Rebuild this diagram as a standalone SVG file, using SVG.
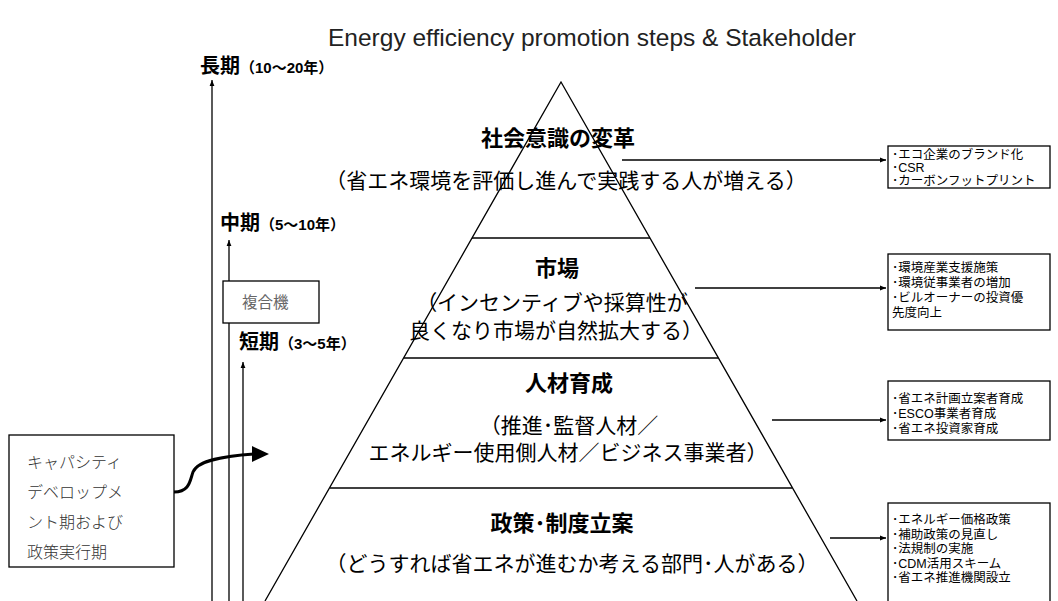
<svg xmlns="http://www.w3.org/2000/svg" width="1058" height="601" viewBox="0 0 1058 601">
<defs>
<style>
.jp{font-family:"Liberation Sans","Noto Sans CJK JP",sans-serif;fill:#000}
.head{font-size:22px;font-weight:bold}
.sub{font-size:21px}
.item{font-size:12.5px}
.period{font-size:20px;font-weight:bold}
.period tspan.s{font-size:15px}
.ln{stroke:#000;stroke-width:1.3;fill:none}
.box{fill:#fff;stroke:#000;stroke-width:1.3}
</style>
<marker id="ah" viewBox="0 0 10 10" refX="10" refY="5" markerWidth="6" markerHeight="6" orient="auto" markerUnits="userSpaceOnUse">
<path d="M0,1 L10,5 L0,9 z" fill="#000"/>
</marker>
</defs>
<rect width="1058" height="601" fill="#fff"/>
<text x="592" y="46" text-anchor="middle" style="font-family:'Liberation Sans',sans-serif;font-size:24.5px;fill:#222">Energy efficiency promotion steps &amp; Stakeholder</text>

<g id="pyramid">
<polyline class="ln" points="265,601 561,82 857,601"/>
<line class="ln" x1="472" y1="238" x2="650" y2="238"/>
<line class="ln" x1="404" y1="358" x2="718" y2="358"/>
<line class="ln" x1="330" y1="488" x2="792" y2="488"/>
</g>

<g id="level-society">
<text class="jp head" x="558" y="146" text-anchor="middle">社会意識の変革</text>
<text class="jp sub" x="566" y="188" text-anchor="middle">（省エネ環境を評価し進んで実践する人が増える）</text>
</g>
<g id="level-market">
<text class="jp head" x="557" y="276" text-anchor="middle">市場</text>
<text class="jp sub" x="552" y="310" text-anchor="middle">（インセンティブや採算性が</text>
<text class="jp sub" x="556" y="338" text-anchor="middle">良くなり市場が自然拡大する）</text>
</g>
<g id="level-hr">
<text class="jp head" x="569" y="391" text-anchor="middle">人材育成</text>
<text class="jp sub" x="569" y="433" text-anchor="middle">（推進･監督人材／</text>
<text class="jp sub" x="568" y="460" text-anchor="middle">エネルギー使用側人材／ビジネス事業者）</text>
</g>
<g id="level-policy">
<text class="jp head" x="562" y="531" text-anchor="middle">政策･制度立案</text>
<text class="jp sub" x="572" y="571" text-anchor="middle">（どうすれば省エネが進むか考える部門･人がある）</text>
</g>

<g id="box-society">
<rect class="box" x="888" y="146" width="162" height="42"/>
<text class="jp item" x="892" y="159">･エコ企業のブランド化</text>
<text class="jp item" x="892" y="172">･CSR</text>
<text class="jp item" x="892" y="185">･カーボンフットプリント</text>
</g>
<g id="box-market">
<rect class="box" x="888" y="254" width="162" height="76"/>
<text class="jp item" x="892" y="272">･環境産業支援施策</text>
<text class="jp item" x="892" y="287">･環境従事業者の増加</text>
<text class="jp item" x="892" y="302">･ビルオーナーの投資優</text>
<text class="jp item" x="892" y="317">先度向上</text>
</g>
<g id="box-hr">
<rect class="box" x="888" y="381" width="162" height="59"/>
<text class="jp item" x="892" y="403">･省エネ計画立案者育成</text>
<text class="jp item" x="892" y="418">･ESCO事業者育成</text>
<text class="jp item" x="892" y="433">･省エネ投資家育成</text>
</g>
<g id="box-policy">
<rect class="box" x="888" y="503" width="162" height="110"/>
<text class="jp item" x="892" y="524">･エネルギー価格政策</text>
<text class="jp item" x="892" y="539">･補助政策の見直し</text>
<text class="jp item" x="892" y="553">･法規制の実施</text>
<text class="jp item" x="892" y="568">･CDM活用スキーム</text>
<text class="jp item" x="892" y="582">･省エネ推進機関設立</text>
</g>

<g id="period-long">
<text class="jp period" x="200" y="73">長期<tspan class="s">（10〜20年）</tspan></text>
</g>
<g id="period-mid">
<text class="jp period" x="220" y="230">中期<tspan class="s">（5〜10年）</tspan></text>
</g>
<g id="period-short">
<text class="jp period" x="239" y="349">短期<tspan class="s">（3〜5年）</tspan></text>
</g>
<g id="box-mfp">
<rect class="box" x="223" y="281" width="96" height="42"/>
<text x="242" y="308" style="font-family:'Noto Sans CJK JP',sans-serif;font-size:15.5px;fill:#666">複合機</text>
</g>
<g id="box-capacity">
<rect class="box" x="9" y="435" width="165" height="132"/>
<g style="font-family:'Noto Sans CJK JP',sans-serif;font-size:16px;fill:#333;font-weight:300">
<text x="27" y="468">キャパシティ</text>
<text x="27" y="498">デベロップメ</text>
<text x="27" y="528">ント期および</text>
<text x="27" y="558">政策実行期</text>
</g>
</g>

<g id="connectors">
<line class="ln" x1="212" y1="601" x2="212" y2="80" marker-end="url(#ah)"/>
<line class="ln" x1="229" y1="281" x2="229" y2="240" marker-end="url(#ah)"/>
<line class="ln" x1="229" y1="323" x2="229" y2="601"/>
<line class="ln" x1="243" y1="601" x2="243" y2="362" marker-end="url(#ah)"/>
<line class="ln" x1="622" y1="160" x2="886" y2="160" marker-end="url(#ah)"/>
<line class="ln" x1="695" y1="288" x2="886" y2="288" marker-end="url(#ah)"/>
<line class="ln" x1="772" y1="420" x2="886" y2="420" marker-end="url(#ah)"/>
<line class="ln" x1="830" y1="538" x2="886" y2="538" marker-end="url(#ah)"/>
<path d="M174,492 C190,492 190,480 193,472 C198,460 225,456 254,454" fill="none" stroke="#000" stroke-width="3"/>
<path d="M252,446 L269,454 L252,462 z" fill="#000"/>
</g>
</svg>
